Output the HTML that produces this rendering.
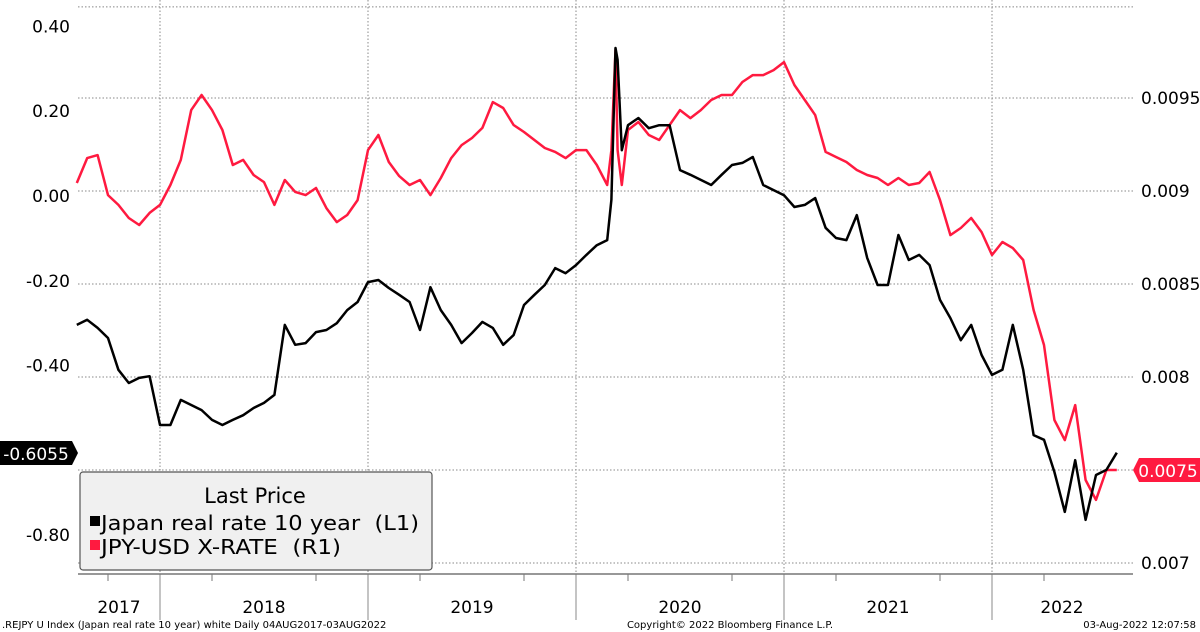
<!DOCTYPE html>
<html><head><meta charset="utf-8"><style>
html,body{margin:0;padding:0;background:#fff;}
svg{display:block;font-family:"DejaVu Sans","Liberation Sans",sans-serif;}
</style></head><body>
<svg id="chart" width="1200" height="632" viewBox="0 0 1200 632" xmlns="http://www.w3.org/2000/svg">
<g id="grid"></g>
<g id="axes"></g>
<g id="series"></g>
<g>
  <rect x="80" y="472" width="352" height="98" rx="3" fill="#f0f0f0" stroke="#555" stroke-width="1.2"/>
  <text x="255" y="503" font-size="21" text-anchor="middle" fill="#000">Last Price</text>
  <rect x="90" y="516" width="10" height="10" fill="#000"/>
  <text x="101" y="530" font-size="20" fill="#000" textLength="318" lengthAdjust="spacingAndGlyphs" xml:space="preserve">Japan real rate 10 year  (L1)</text>
  <rect x="90" y="540" width="10" height="10" fill="#ff1a40"/>
  <text x="101" y="554" font-size="20" fill="#000" textLength="240" lengthAdjust="spacingAndGlyphs" xml:space="preserve">JPY-USD X-RATE  (R1)</text>
</g>
<g>
  <polygon points="0,441 72,441 78,453 72,465 0,465" fill="#000"/>
  <text x="36" y="460" font-size="17" fill="#fff" text-anchor="middle">-0.6055</text>
</g>
<g>
  <polygon points="1139,458 1200,458 1200,482 1139,482 1133,470" fill="#ff1a40"/>
  <text x="1168" y="477" font-size="17" fill="#fff" text-anchor="middle">0.0075</text>
</g>
<text x="2" y="628" font-size="10" fill="#000">.REJPY U Index (Japan real rate 10 year) white  Daily 04AUG2017-03AUG2022</text>
<text x="730" y="628" font-size="10" fill="#000" text-anchor="middle">Copyright© 2022 Bloomberg Finance L.P.</text>
<text x="1196" y="628" font-size="10" fill="#000" text-anchor="end">03-Aug-2022 12:07:58</text>
</svg>
<script>
const blackDates = [2017.60,2017.65,2017.70,2017.75,2017.80,2017.85,2017.90,2017.95,2018.00,2018.05,2018.10,2018.15,2018.20,2018.25,2018.30,2018.35,2018.40,2018.45,2018.50,2018.55,2018.60,2018.65,2018.70,2018.75,2018.80,2018.85,2018.90,2018.95,2019.00,2019.05,2019.10,2019.15,2019.20,2019.25,2019.30,2019.35,2019.40,2019.45,2019.50,2019.55,2019.60,2019.65,2019.70,2019.75,2019.80,2019.85,2019.90,2019.95,2020.00,2020.05,2020.10,2020.15,2020.17,2020.19,2020.20,2020.22,2020.25,2020.30,2020.35,2020.40,2020.45,2020.50,2020.55,2020.60,2020.65,2020.70,2020.75,2020.80,2020.85,2020.90,2020.95,2021.00,2021.05,2021.10,2021.15,2021.20,2021.25,2021.30,2021.35,2021.40,2021.45,2021.50,2021.55,2021.60,2021.65,2021.70,2021.75,2021.80,2021.85,2021.90,2021.95,2022.00,2022.05,2022.10,2022.15,2022.20,2022.25,2022.30,2022.35,2022.40,2022.45,2022.50,2022.55,2022.60];
const japanRealRate = [-0.304,-0.292,-0.311,-0.335,-0.410,-0.441,-0.429,-0.425,-0.540,-0.540,-0.481,-0.493,-0.505,-0.528,-0.540,-0.528,-0.517,-0.500,-0.488,-0.469,-0.304,-0.351,-0.347,-0.321,-0.316,-0.300,-0.269,-0.250,-0.203,-0.198,-0.217,-0.233,-0.250,-0.316,-0.215,-0.269,-0.304,-0.347,-0.323,-0.297,-0.311,-0.351,-0.328,-0.257,-0.233,-0.210,-0.170,-0.182,-0.163,-0.139,-0.116,-0.104,-0.009,0.349,0.321,0.108,0.167,0.184,0.160,0.167,0.167,0.061,0.050,0.038,0.026,0.050,0.073,0.078,0.092,0.026,0.014,0.002,-0.026,-0.021,-0.005,-0.075,-0.099,-0.104,-0.045,-0.146,-0.210,-0.210,-0.092,-0.151,-0.139,-0.163,-0.245,-0.288,-0.340,-0.304,-0.375,-0.422,-0.410,-0.304,-0.410,-0.564,-0.575,-0.651,-0.745,-0.623,-0.764,-0.658,-0.646,-0.6055];
const redDates = blackDates;
const jpyUsd = [0.009043,0.009177,0.009193,0.008978,0.008925,0.008855,0.008817,0.008882,0.008925,0.009032,0.009167,0.009435,0.009516,0.009435,0.009328,0.009140,0.009167,0.009086,0.009048,0.008925,0.009059,0.008995,0.008978,0.009016,0.008908,0.008833,0.008871,0.008951,0.009220,0.009301,0.009156,0.009080,0.009032,0.009059,0.008978,0.009070,0.009177,0.009247,0.009285,0.009339,0.009478,0.009446,0.009355,0.009317,0.009274,0.009231,0.009210,0.009177,0.009220,0.009220,0.009140,0.009032,0.009220,0.009758,0.009220,0.009032,0.009328,0.009371,0.009301,0.009274,0.009355,0.009435,0.009392,0.009435,0.009489,0.009516,0.009516,0.009586,0.009623,0.009623,0.009650,0.009693,0.009570,0.009489,0.009408,0.009210,0.009183,0.009156,0.009113,0.009086,0.009070,0.009032,0.009070,0.009032,0.009043,0.009102,0.008951,0.008763,0.008801,0.008855,0.008779,0.008656,0.008726,0.008693,0.008629,0.008360,0.008172,0.007769,0.007661,0.007849,0.007446,0.007339,0.007500,0.007500];
const leftTicks = [0.40,0.20,0.00,-0.20,-0.40,-0.80];
const leftTickLabels = ["0.40","0.20","0.00","-0.20","-0.40","-0.80"];
const rightTicks = [0.0095,0.009,0.0085,0.008,0.0075,0.007];
const rightTickLabels = ["0.0095","0.009","0.0085","0.008","","0.007"];
const years = [2017,2018,2019,2020,2021,2022];

const NS="http://www.w3.org/2000/svg";
const X0=78, X1=1133, AXY=574;
function xs(t){return 160+(t-2018)*208;}
function yl(v){return 196-v*424;}
function yr(v){return 563-(v-0.007)/0.0005*93;}
function mk(tag,attrs,parent){const e=document.createElementNS(NS,tag);for(const k in attrs)e.setAttribute(k,attrs[k]);parent.appendChild(e);return e;}
const grid=document.getElementById('grid'), axes=document.getElementById('axes'), series=document.getElementById('series');

[0.0095,0.009,0.0085,0.008,0.0075,0.007,0.00999].forEach(v=>{
  const l=mk('line',{x1:X0,x2:X1,y1:yr(v),y2:yr(v),stroke:'#888','stroke-width':1,'stroke-dasharray':'1.5,2'},grid);
  
  
});
for(let y=2018;y<=2022;y++){
  const x=xs(y);
  const d=mk('line',{x1:x,x2:x,y1:0,y2:AXY,stroke:'#888','stroke-width':1,'stroke-dasharray':'1.5,2'},grid);
  
  
  const s=mk('line',{x1:x,x2:x,y1:AXY,y2:620,stroke:'#888','stroke-width':1},axes);
  
  
}
const ax=mk('line',{x1:X0,x2:X1,y1:AXY,y2:AXY,stroke:'#777','stroke-width':1.5},axes);


years.forEach(y=>{
  [0.25,0.75].forEach(f=>{const x=xs(y+f); if(x>X0&&x<X1){
    const t=mk('line',{x1:x,x2:x,y1:AXY,y2:AXY+7,stroke:'#777','stroke-width':1},axes);
    
    }});
  const cx=xs(y+0.5);
  const lab=mk('text',{x:y===2017?119:(y===2022?1062:cx),y:613,'font-size':17,'text-anchor':'middle',fill:'#000'},axes);
  lab.textContent=y;
  
  
});
leftTicks.forEach((v,i)=>{
  const t=mk('text',{x:70,y:yl(v)+6,'font-size':17,'text-anchor':'end',fill:'#000'},axes);
  t.textContent=leftTickLabels[i];
  
  
});
rightTicks.forEach((v,i)=>{
  if(!rightTickLabels[i])return;
  const t=mk('text',{x:1141,y:yr(v)+6,'font-size':17,'text-anchor':'start',fill:'#000'},axes);
  t.textContent=rightTickLabels[i];
  
  
});
function path(dates,vals,f){return dates.map((t,i)=>(i?'L':'M')+xs(t).toFixed(1)+','+f(vals[i]).toFixed(1)).join('');}
const pr=mk('path',{d:path(redDates,jpyUsd,yr),fill:'none',stroke:'#ff1a40','stroke-width':2.5,'stroke-linejoin':'round'},series);


const pb=mk('path',{d:path(blackDates,japanRealRate,yl),fill:'none',stroke:'#000','stroke-width':2.5,'stroke-linejoin':'round'},series);


</script>
</body></html>
